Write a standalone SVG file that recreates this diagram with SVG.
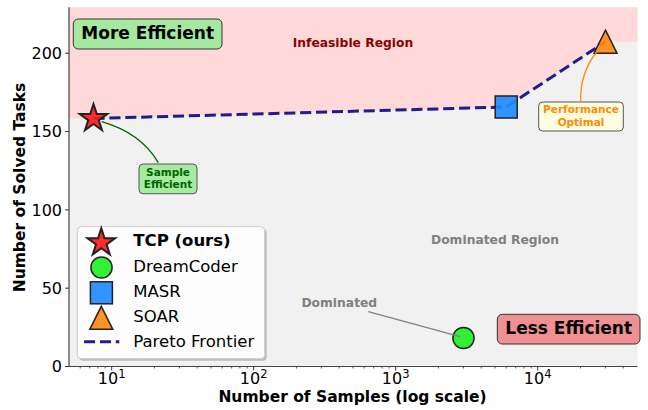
<svg xmlns="http://www.w3.org/2000/svg" width="648" height="410" viewBox="0 0 648 410">
  <defs>
    <style>
      text { font-family: "DejaVu Sans", "Liberation Sans", sans-serif; fill: #000; }
      .tick { font-size: 16px; }
      .sup { font-size: 11.5px; }
      .axtitle { font-size: 15.5px; font-weight: bold; }
      .big { font-size: 17px; font-weight: bold; }
      .region { font-size: 12.3px; font-weight: bold; }
      .note { font-size: 10.5px; font-weight: bold; }
      .leg { font-size: 16.5px; }
      .spine { stroke: #444; stroke-width: 1.2; fill: none; }
      .frontier { stroke: #000080; stroke-opacity: 0.88; stroke-width: 3; stroke-dasharray: 11.1 4.8; fill: none; }
      .mk { stroke: #222; stroke-width: 1.5; stroke-linejoin: miter; }
      .star { fill: #ff1a1a; fill-opacity: 0.92; stroke-width: 2; }
      .circ { fill: #22f022; fill-opacity: 0.92; }
      .sq { fill: #1e8cff; fill-opacity: 0.92; }
      .tri { fill: #ff8a10; fill-opacity: 0.92; }
    </style>
    <path id="starShape" d="M0,-14.5 L3.26,-4.48 L13.79,-4.48 L5.27,1.71 L8.52,11.73 L0,5.54 L-8.52,11.73 L-5.27,1.71 L-13.79,-4.48 L-3.26,-4.48 Z"/>
    <path id="triShape" d="M0,-11.5 L11.5,11.5 L-11.5,11.5 Z"/>
  </defs>

  <rect width="648" height="410" fill="#fff"/>

  <!-- plotting area: dominated background and infeasible band above the frontier -->
  <g id="regions">
    <rect x="69" y="7.3" width="568.5" height="359.2" fill="#f1f1f1"/>
    <polygon points="69,7.3 637.5,7.3 637.5,41.7 605.5,41.7 506.2,107 93.5,118.5 69,118.5" fill="#ffd9d9"/>
  </g>

  <!-- axes -->
  <g id="axes">
    <line class="spine" x1="69" y1="7.3" x2="69" y2="366.5"/>
    <line class="spine" x1="69" y1="366.5" x2="637.5" y2="366.5"/>
    <!-- y ticks -->
    <path d="M65,366.5H69M65,288.2H69M65,209.9H69M65,131.5H69M65,53.2H69" stroke="#333" stroke-width="1"/>
    <text class="tick" x="62" y="372.3" text-anchor="end">0</text>
    <text class="tick" x="62" y="294" text-anchor="end">50</text>
    <text class="tick" x="62" y="215.7" text-anchor="end">100</text>
    <text class="tick" x="62" y="137.3" text-anchor="end">150</text>
    <text class="tick" x="62" y="59" text-anchor="end">200</text>
    <!-- x major ticks -->
    <path d="M111.7,366.5V370.5M253.7,366.5V370.5M395.7,366.5V370.5M537.7,366.5V370.5" stroke="#333" stroke-width="1"/>
    <!-- x minor ticks -->
    <path d="M80.2,366.5v2M89.7,366.5v2M97.9,366.5v2M105.2,366.5v2M154.4,366.5v2M179.4,366.5v2M197.2,366.5v2M211,366.5v2M222.2,366.5v2M231.7,366.5v2M239.9,366.5v2M247.2,366.5v2M296.4,366.5v2M321.4,366.5v2M339.2,366.5v2M353,366.5v2M364.2,366.5v2M373.7,366.5v2M381.9,366.5v2M389.2,366.5v2M438.4,366.5v2M463.4,366.5v2M481.2,366.5v2M495,366.5v2M506.2,366.5v2M515.7,366.5v2M523.9,366.5v2M531.2,366.5v2M580.4,366.5v2M605.4,366.5v2M623.2,366.5v2" stroke="#333" stroke-width="0.8"/>
    <text class="tick" x="111.7" y="384.3" text-anchor="middle">10<tspan class="sup" dy="-6">1</tspan></text>
    <text class="tick" x="253.7" y="384.3" text-anchor="middle">10<tspan class="sup" dy="-6">2</tspan></text>
    <text class="tick" x="395.7" y="384.3" text-anchor="middle">10<tspan class="sup" dy="-6">3</tspan></text>
    <text class="tick" x="537.7" y="384.3" text-anchor="middle">10<tspan class="sup" dy="-6">4</tspan></text>
    <text class="axtitle" x="352.5" y="402" text-anchor="middle">Number of Samples (log scale)</text>
    <text class="axtitle" x="25" y="187.5" text-anchor="middle" transform="rotate(-90 25 187.5)">Number of Solved Tasks</text>
  </g>

  <!-- Pareto frontier -->
  <g id="connectors">
    <polyline class="frontier" points="93.5,118.5 506.2,107 605.5,41.7"/>
  </g>

  <!-- methods -->
  <g id="node-dreamcoder">
    <circle class="mk circ" cx="463.5" cy="338" r="10.6"/>
  </g>
  <g id="node-masr">
    <rect class="mk sq" x="495.2" y="96" width="22" height="22"/>
  </g>
  <g id="node-soar">
    <use href="#triShape" class="mk tri" x="605.5" y="41.7"/>
  </g>
  <g id="node-tcp">
    <use href="#starShape" class="mk star" x="93.5" y="118.5"/>
  </g>

  <!-- callouts -->
  <g id="callout-lines" fill="none" stroke-width="1.3">
    <path d="M158.3,162.7 Q141,133 101.7,121.7" stroke="#006400"/>
    <path d="M580.7,101 Q580,72 597.5,51" stroke="#ff8c00"/>
    <path d="M368.3,311.7 L460,336.7" stroke="#808080"/>
  </g>

  <g id="label-more-efficient">
    <rect x="73.3" y="19" width="148.7" height="30" rx="5" fill="#a5e8a0" stroke="#333" stroke-width="1"/>
    <text class="big" x="147.7" y="38.5" text-anchor="middle">More Efficient</text>
  </g>
  <g id="label-infeasible">
    <text class="region" x="353" y="46.7" text-anchor="middle" style="fill:#8b0000">Infeasible Region</text>
  </g>
  <g id="label-performance">
    <rect x="538.7" y="102" width="84.6" height="29" rx="4" fill="#fdfde2" stroke="#555" stroke-width="1"/>
    <text class="note" x="581" y="113.3" text-anchor="middle" style="fill:#ff8c00">Performance</text>
    <text class="note" x="581" y="125.6" text-anchor="middle" style="fill:#ff8c00">Optimal</text>
  </g>
  <g id="label-sample">
    <rect x="139" y="164" width="58" height="29.7" rx="4" fill="#a5eba0" stroke="#555" stroke-width="1"/>
    <text class="note" x="168" y="175.8" text-anchor="middle" style="fill:#006400">Sample</text>
    <text class="note" x="168" y="188.3" text-anchor="middle" style="fill:#006400">Efficient</text>
  </g>
  <g id="label-dominated-region">
    <text class="region" x="495" y="244" text-anchor="middle" style="fill:#808080">Dominated Region</text>
  </g>
  <g id="label-dominated">
    <text class="region" x="339.3" y="307.3" text-anchor="middle" style="fill:#808080">Dominated</text>
  </g>
  <g id="label-less-efficient">
    <rect x="497.3" y="314.3" width="142.7" height="29.7" rx="5" fill="#f09090" stroke="#333" stroke-width="1"/>
    <text class="big" x="568.7" y="334" text-anchor="middle">Less Efficient</text>
  </g>

  <!-- legend -->
  <g id="legend">
    <rect x="79.3" y="228.7" width="187.4" height="132" rx="4" fill="#888" fill-opacity="0.5"/>
    <rect x="77.3" y="226.7" width="187.4" height="132" rx="4" fill="#fff" fill-opacity="0.95" stroke="#ccc" stroke-width="1"/>
    <use href="#starShape" class="mk star" x="101.3" y="242.7"/>
    <circle class="mk circ" cx="101.5" cy="267.5" r="10.6"/>
    <rect class="mk sq" x="90.4" y="281.8" width="22" height="22"/>
    <use href="#triShape" class="mk tri" x="101.3" y="317.8"/>
    <line class="frontier" x1="84" y1="341.7" x2="119.3" y2="341.7"/>
    <text class="leg" x="133.3" y="246.2" font-weight="bold">TCP (ours)</text>
    <text class="leg" x="133.3" y="271.7">DreamCoder</text>
    <text class="leg" x="133.3" y="296.7">MASR</text>
    <text class="leg" x="133.3" y="321.7">SOAR</text>
    <text class="leg" x="133.3" y="346.7">Pareto Frontier</text>
  </g>
</svg>
